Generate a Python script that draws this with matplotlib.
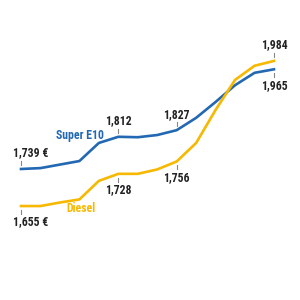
import matplotlib
matplotlib.use("Agg")
import matplotlib.pyplot as plt
from matplotlib import font_manager

super_e10 = [1.739, 1.741, 1.749, 1.757, 1.798, 1.812, 1.811, 1.816, 1.827, 1.855, 1.891, 1.929, 1.957, 1.965]
diesel = [1.655, 1.655, 1.663, 1.670, 1.712, 1.728, 1.728, 1.738, 1.756, 1.798, 1.873, 1.941, 1.973, 1.984]

# (series, index, text, above?)
labels = [
    ("e10", 0, "1,739 €", True),
    ("e10", 5, "1,812", True),
    ("e10", 8, "1,827", True),
    ("e10", 13, "1,965", False),
    ("diesel", 0, "1,655 €", False),
    ("diesel", 5, "1,728", False),
    ("diesel", 8, "1,756", False),
    ("diesel", 13, "1,984", True),
]

names = {f.name for f in font_manager.fontManager.ttflist}
fam = ["Roboto"]
for cand in ["Roboto Condensed", "Liberation Sans Narrow", "Open Sans Condensed"]:
    if cand in names:
        fam = [cand]
        break
fam = fam + ["DejaVu Sans"]

BLUE = "#2268b2"
YELLOW = "#f6b800"
TXT = "#222222"

fig = plt.figure(figsize=(3, 3), dpi=100)
ax = fig.add_axes([0, 0, 1, 1])
ax.set_axis_off()
x = list(range(len(super_e10)))
ax.plot(x, super_e10, color=BLUE, lw=1.9, solid_joinstyle="round")
ax.plot(x, diesel, color=YELLOW, lw=1.9, solid_joinstyle="round")
ax.set_xlim(-1.079, 14.336)
ax.set_ylim(1.442, 2.1221)
fig.canvas.draw()

for ser, i, txt, above in labels:
    v = (super_e10 if ser == "e10" else diesel)[i]
    s = 1 if above else -1
    t0 = ax.transData.transform((i, v))
    ax.plot([t0[0], t0[0]], [t0[1] + s * 4, t0[1] + s * 8], color="#888888", lw=0.8,
            transform=None)
    ax.annotate(txt, xy=(i, v), xytext=(-8 if i == 0 else 0, s * 16),
                textcoords="offset pixels", ha="left" if i == 0 else "center",
                va="center", fontsize=8.5, fontweight="bold", color=TXT, family=fam)

ax.text(80 / 300, 1 - 135 / 300, "Super E10", transform=ax.transAxes, ha="center",
        va="center", fontsize=8.5, fontweight="bold", color=BLUE, family=fam)
ax.text(80.5 / 300, 1 - 209 / 300, "Diesel", transform=ax.transAxes, ha="center",
        va="center", fontsize=8.5, fontweight="bold", color=YELLOW, family=fam)

fig.savefig("out.png", dpi=100)
